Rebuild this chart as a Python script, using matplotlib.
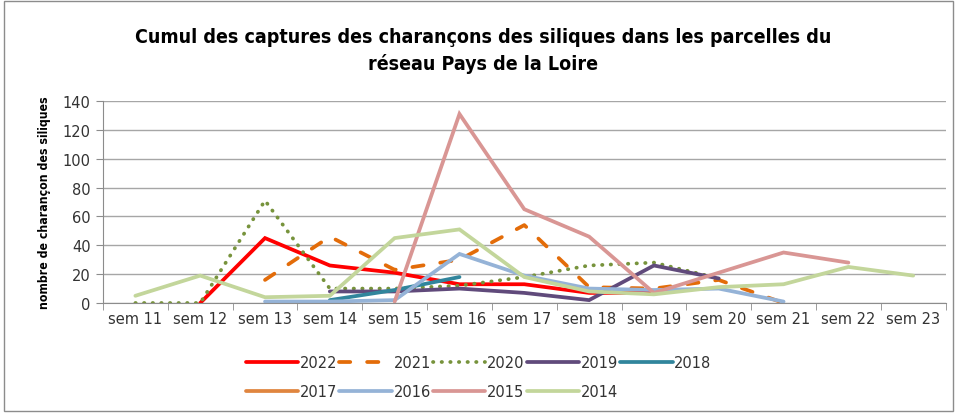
import numpy as np
import matplotlib
matplotlib.use("Agg")
import matplotlib.pyplot as plt
from matplotlib.patches import Rectangle

weeks = ["sem 11", "sem 12", "sem 13", "sem 14", "sem 15", "sem 16", "sem 17",
         "sem 18", "sem 19", "sem 20", "sem 21", "sem 22", "sem 23"]
N = None
y2022 = [N, 0, 45, 26, 21, 13, 13, 7, 7, N, N, N, N]
y2021 = [N, N, 16, 46, 23, 30, 54, 11, 10, 16, 0, N, N]
y2020 = [0, 0, 71, 10, 10, 12, 18, 26, 28, 17, N, N, N]
y2019 = [N, N, N, 8, 8, 10, 7, 2, 26, 17, N, N, N]
y2018 = [N, N, N, 2, 9, 18, N, N, N, N, N, N, N]
y2017 = [N] * 13
y2016 = [N, N, 1, 1, 2, 34, 19, 10, 9, 10, 1, N, N]
y2015 = [N, N, N, N, 1, 131, 65, 46, 7, 21, 35, 28, N]
y2014 = [5, 19, 4, 5, 45, 51, 18, 8, 6, 11, 13, 25, 19]

series = [
    ("2022", y2022, "#ff0000", "-"),
    ("2021", y2021, "#e36c09", (0, (3, 4.5))),
    ("2020", y2020, "#77933c", (0, (0.1, 2.2))),
    ("2019", y2019, "#604a7b", "-"),
    ("2018", y2018, "#31859c", "-"),
    ("2017", y2017, "#e0853f", "-"),
    ("2016", y2016, "#95b3d7", "-"),
    ("2015", y2015, "#d99694", "-"),
    ("2014", y2014, "#c3d69b", "-"),
]

fig = plt.figure(figsize=(9.57, 4.14), dpi=100)
fig.patches.append(Rectangle((0.004, 0.004), 0.992, 0.992, transform=fig.transFigure,
                             fill=False, edgecolor="#8c8c8c", lw=1))
ax = fig.add_axes([0.1076, 0.2657, 0.8805, 0.4879])

x = np.arange(len(weeks))
lines = []
for name, vals, col, ls in series:
    v = np.array([np.nan if a is None else a for a in vals], dtype=float)
    ln, = ax.plot(x, v, color=col, lw=2.7, linestyle=ls, label=name,
                  solid_capstyle="round", dash_capstyle="round", solid_joinstyle="miter")
    lines.append(ln)

ax.set_xlim(-0.5, len(weeks) - 0.5)
ax.set_ylim(0, 140)
ax.set_yticks(range(0, 141, 20))
ax.set_xticks(x)
ax.set_xticklabels(weeks)
ax.set_xticks(np.arange(-0.5, len(weeks), 1), minor=True)
ax.tick_params(axis="x", which="major", length=0, pad=6, labelsize=10.5, colors="#333333")
ax.tick_params(axis="x", which="minor", length=5, color="#8c8c8c", direction="out")
ax.tick_params(axis="y", length=5, color="#8c8c8c", labelsize=10.5, colors="#333333", pad=4)
ax.grid(axis="y", color="#a6a6a6", lw=1)
ax.set_axisbelow(True)
for s in ["top", "right"]:
    ax.spines[s].set_visible(False)
for s in ["left", "bottom"]:
    ax.spines[s].set_color("#8c8c8c")

ax.set_ylabel("nombre de charançon des siliques", fontsize=8.8, fontweight="bold",
              fontstretch="condensed", labelpad=8)

fig.text(0.505, 0.877, "Cumul des captures des charançons des siliques dans les parcelles du\nréseau Pays de la Loire",
         ha="center", va="center", fontsize=14, fontweight="bold", linespacing=1.4,
         fontstretch="condensed")

# column-major fill -> reorder so rows read 2022..2018 / 2017..2014
order = [0, 5, 1, 6, 2, 7, 3, 8, 4]
fig.legend(handles=[lines[i] for i in order], loc="center", bbox_to_anchor=(0.5, 0.087), ncol=5,
           frameon=False, fontsize=10.5, handlelength=3.6, handletextpad=0.1, columnspacing=0.15,
           labelspacing=1.0, labelcolor="#333333")

fig.savefig("out.png", dpi=100)
